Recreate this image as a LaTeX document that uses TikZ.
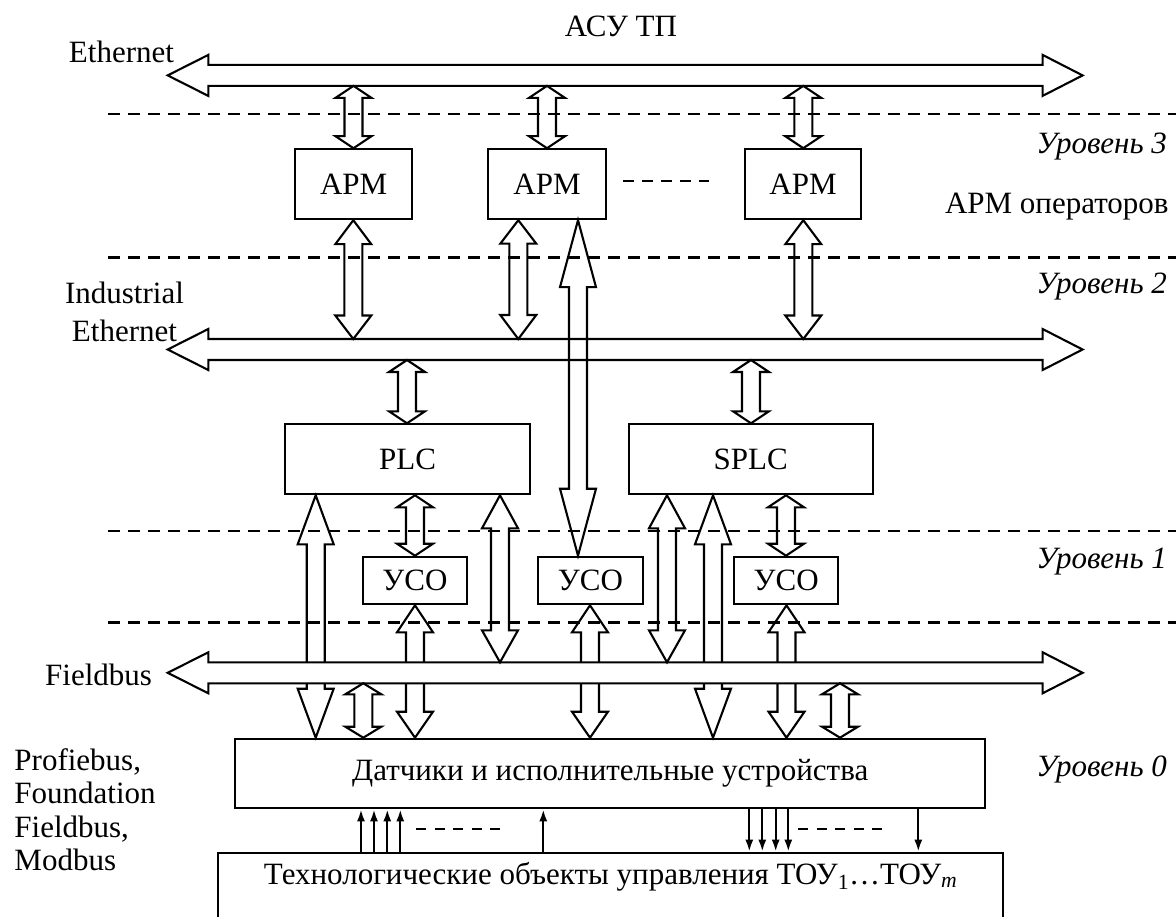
\documentclass[tikz,border=0pt]{standalone}
\usepackage{fontspec}
\setmainfont{Liberation Serif}
\usetikzlibrary{calc,arrows.meta}

% hollow two-headed arrow: x, from, to, head length at from, head length at to
\newcommand{\fatarrow}[5]{%
  \coordinate (fat-a) at (#1,0 |- #2);
  \coordinate (fat-b) at (#1,0 |- #3);
  \draw (fat-a) -- ($(fat-a)+(18,#4)$) -- ($(fat-a)+(9,#4)$) -- ($(fat-b)+(9,-#5)$)
    -- ($(fat-b)+(18,-#5)$) -- (fat-b) -- ($(fat-b)+(-18,-#5)$) -- ($(fat-b)+(-9,-#5)$)
    -- ($(fat-a)+(-9,#4)$) -- ($(fat-a)+(-18,#4)$) -- cycle;}

% bus: name, y
\newcommand{\drawbus}[3][]{%
  \node[shaft] (#2) at (625.45,#3) {};
  \draw[#1] (#2.north west) -- ++(0,-10) -- ($(#2.west)+(-40.6,0)$)
    -- ($(#2.south west)+(0,10)$) -- (#2.south west) -- (#2.south east)
    -- ++(0,10) -- ($(#2.east)+(40,0)$) -- ($(#2.north east)+(0,-10)$)
    -- (#2.north east) -- cycle;}

\begin{document}
\begin{tikzpicture}[x=1pt, y=-1pt, line width=2.1pt,
    every node/.style={font=\fontsize{31}{37}\selectfont, inner sep=0pt},
    box/.style={rectangle, draw, line width=2pt, minimum height=70},
    uso/.style={box, minimum width=104.3, minimum height=47.6},
    shaft/.style={outer sep=0pt, minimum width=834.3, minimum height=21},
    lvl/.style={anchor=base east, font=\fontsize{31}{37}\selectfont\itshape},
    sepline/.style={dash pattern=on 11.7pt off 8.3pt, line width=2.8pt},
    sig/.style={-{Latex[length=12pt,width=8pt]}, line width=2.2pt}]

\useasboundingbox (0,0) rectangle (1176,917);
\clip (0,0) rectangle (1176,917);
\fill[white] (0,0) rectangle (1176,917);

% level borders
\foreach \y in {114,257.7,531,622.7}
  \draw[sepline] (108,\y) -- (1176,\y);

\drawbus{eth}{75.4}
\drawbus{ie}{349.5}

\node[box, minimum width=117.2] (apm1) at (353.6,184.2) {АРМ};
\node[box, minimum width=117.4] (apm2) at (547,184.2) {АРМ};
\node[box, minimum width=116.7] (apm3) at (803,184.2) {АРМ};
\node[box, minimum width=245] (plc) at (407.5,459.3) {PLC};
\node[box, minimum width=244] (splc) at (750.7,459.3) {SPLC};
\node[uso] (uso1) at (414.9,580.5) {УСО};
\node[uso] (uso2) at (590.5,580.5) {УСО};
\node[uso] (uso3) at (786.2,580.5) {УСО};
\node[box, minimum width=750.5, minimum height=69.6] (dat) at (610.2,773.5)
  {Датчики и исполнительные устройства};
\node[draw, line width=2pt, minimum width=784.7, text height=31.3, text depth=45, anchor=north] (tou)
  at (610.7,851.7) {Технологические объекты управления ТОУ\textsubscript{1}…ТОУ\textsubscript{\textit{m}}};

\draw[dash pattern=on 11pt off 8pt, line width=2.6pt] (623.3,181) -- (709.3,181);

% Ethernet <-> APM
\fatarrow{353.5}{eth.south}{apm1.north}{12}{12}
\fatarrow{547}{eth.south}{apm2.north}{12}{12}
\fatarrow{803.3}{eth.south}{apm3.north}{12}{12}
% APM <-> Industrial Ethernet
\fatarrow{353.3}{apm1.south}{ie.north}{24}{23.5}
\fatarrow{518.3}{apm2.south}{ie.north}{23.5}{24}
\fatarrow{803.3}{apm3.south}{ie.north}{24}{23.5}
\fatarrow{578}{apm2.south}{uso2.north}{67}{67}
% Industrial Ethernet <-> PLC, SPLC
\fatarrow{407}{ie.south}{plc.north}{12}{12}
\fatarrow{751}{ie.south}{splc.north}{12}{12}
% PLC, SPLC, USO
\fatarrow{415}{plc.south}{uso1.north}{12}{12}
\fatarrow{786}{splc.south}{uso3.north}{12}{12}
\fatarrow{315.7}{plc.south}{dat.north}{49}{49}
\fatarrow{713}{splc.south}{dat.north}{49}{49}
\fatarrow{415}{uso1.south}{dat.north}{27}{26}
\fatarrow{590}{uso2.south}{dat.north}{27}{26}
\fatarrow{786.5}{uso3.south}{dat.north}{27}{26}

\drawbus[fill=white]{fb}{672.8}

\fatarrow{500}{plc.south}{fb.north}{33}{32}
\fatarrow{667}{splc.south}{fb.north}{33}{32}
\fatarrow{363.3}{fb.south}{dat.north}{11}{11}
\fatarrow{840}{fb.south}{dat.north}{11}{11}

% field signals
\foreach \x in {361,374,387.3,400.3,543.3}
  \draw[sig] (\x,0 |- tou.north) -- (\x,0 |- dat.south);
\foreach \x in {749.3,762.3,775.7,788.3,918.3}
  \draw[sig] (\x,0 |- dat.south) -- (\x,0 |- tou.north);
\draw[dash pattern=on 10pt off 8.5pt, line width=2.6pt] (416,829) -- (500,829);
\draw[dash pattern=on 10pt off 8.5pt, line width=2.6pt] (798.3,829) -- (884,829);

% labels
\node[anchor=base] (asu) at (621,36.5) {АСУ ТП};
\node[anchor=base east] (ethl) at (175,63) {Ethernet};
\node[align=center, anchor=north, font=\fontsize{31}{38.3}\selectfont] (iel)
  at (124.5,280.5) {Industrial\\Ethernet};
\node[anchor=base east] (fbl) at (153,685) {Fieldbus};
\node[align=left, anchor=north west, font=\fontsize{31}{33.4}\selectfont] (fbtypes)
  at (13.4,747.5) {Profiebus,\\Foundation\\Fieldbus,\\Modbus};
\node[lvl] (l3) at (1168,153.3) {Уровень 3};
\node[anchor=base west] (arml) at (944,213.3) {АРМ операторов};
\node[lvl] (l2) at (1168,293.3) {Уровень 2};
\node[lvl] (l1) at (1168,568.3) {Уровень 1};
\node[lvl] (l0) at (1168,776.7) {Уровень 0};

\end{tikzpicture}
\end{document}
